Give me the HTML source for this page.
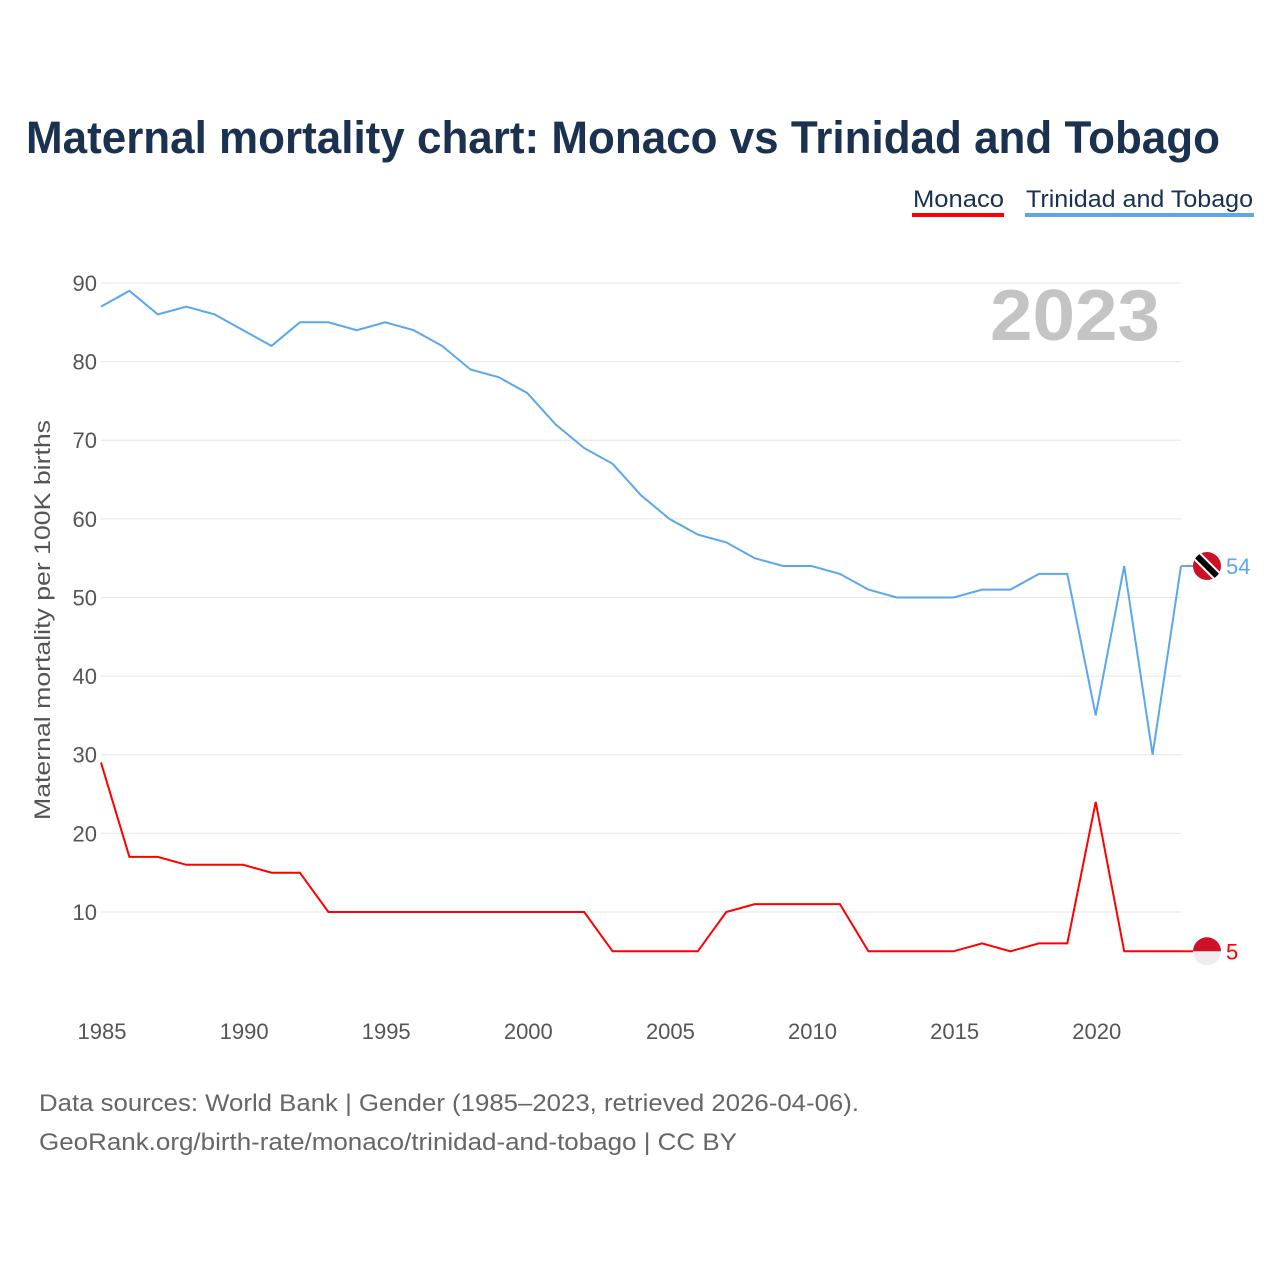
<!DOCTYPE html>
<html><head><meta charset="utf-8"><style>
body{margin:0;background:#fff;font-family:"Liberation Sans",sans-serif;}
#wrap{position:relative;width:1280px;height:1280px;}
</style></head><body>
<div id="wrap">
<svg id="chart" width="1280" height="1280"></svg>
</div>
<script>
const years=[];for(let y=1985;y<=2023;y++)years.push(y);
const ttValues=[87,89,86,87,86,84,82,85,85,84,85,84,82,79,78,76,72,69,67,63,60,58,57,55,54,54,53,51,50,50,50,51,51,53,53,35,54,30,54];
const monacoValues=[29,17,17,16,16,16,15,15,10,10,10,10,10,10,10,10,10,10,5,5,5,5,10,11,11,11,11,5,5,5,5,6,5,6,6,24,5,5,5];
const yTicks=[10,20,30,40,50,60,70,80,90];
const xTicks=[1985,1990,1995,2000,2005,2010,2015,2020];
const svg=document.getElementById('chart');const NS='http://www.w3.org/2000/svg';
function X(y){return 101+(y-1985)*(1181-101)/38;}
function Y(v){return 990.6-v*7.8625;}
function mk(t,a,p){const e=document.createElementNS(NS,t);for(const k in a)e.setAttribute(k,a[k]);(p||svg).appendChild(e);return e;}
let e;
e=mk('text',{x:26,y:153,'font-size':45,'font-weight':'bold',fill:'#1a3150',textLength:1194,lengthAdjust:'spacingAndGlyphs'});e.textContent='Maternal mortality chart: Monaco vs Trinidad and Tobago';

e=mk('text',{x:913,y:207,'font-size':24,fill:'#1a3150',textLength:91,lengthAdjust:'spacingAndGlyphs'});e.textContent='Monaco';

mk('rect',{x:912,y:213,width:92,height:4,fill:'#ff0000'});
e=mk('text',{x:1026,y:207,'font-size':24,fill:'#1a3150',textLength:227,lengthAdjust:'spacingAndGlyphs'});e.textContent='Trinidad and Tobago';

mk('rect',{x:1025,y:213,width:229,height:4,fill:'#5ba7ec'});
yTicks.forEach(v=>{
 e=mk('line',{x1:101,x2:1181,y1:Y(v),y2:Y(v),stroke:'#e6e6e6','stroke-width':1});
 
 e=mk('text',{x:97,y:Y(v)+8,'font-size':22,fill:'#555','text-anchor':'end'});e.textContent=v;
 
});
xTicks.forEach(v=>{
 e=mk('text',{x:X(v)+1,y:1039,'font-size':22,fill:'#555','text-anchor':'middle'});e.textContent=v;
 
});
e=mk('text',{x:-200,y:0,'font-size':22,fill:'#555',textLength:400,lengthAdjust:'spacingAndGlyphs',transform:'translate(50,620) rotate(-90)'});e.textContent='Maternal mortality per 100K births';

e=mk('text',{x:1160,y:340,'font-size':72,'font-weight':'bold',fill:'#c4c4c4','text-anchor':'end',textLength:170,lengthAdjust:'spacingAndGlyphs'});e.textContent='2023';

function line(vals,color,name){
 const d=vals.map((v,i)=>(i?'L':'M')+X(years[i]).toFixed(1)+','+Y(v).toFixed(1)).join('');
 const p=mk('path',{d:d,fill:'none',stroke:color,'stroke-width':2});
 
}
line(ttValues,'#5ba7ec','trinidad-line');
line(monacoValues,'#ff0000','monaco-line');
const tv=ttValues[ttValues.length-1],mv=monacoValues[monacoValues.length-1];
mk('line',{x1:1181,x2:1195,y1:Y(tv),y2:Y(tv),stroke:'#5ba7ec','stroke-width':2});
const g1=mk('g',{});
mk('clipPath',{id:'c1'},g1);mk('circle',{cx:1207,cy:Y(tv),r:14},document.getElementById('c1'));
mk('circle',{cx:1207,cy:Y(tv),r:14,fill:'#ce1126'},g1);
mk('line',{x1:1193,y1:Y(tv)-14,x2:1221,y2:Y(tv)+14,stroke:'#fff','stroke-width':10,'clip-path':'url(#c1)'},g1);
mk('line',{x1:1193,y1:Y(tv)-14,x2:1221,y2:Y(tv)+14,stroke:'#000','stroke-width':6,'clip-path':'url(#c1)'},g1);
e=mk('text',{x:1226,y:Y(tv)+8,'font-size':22,fill:'#5ba7ec'});e.textContent=tv;

mk('line',{x1:1181,x2:1195,y1:Y(mv),y2:Y(mv),stroke:'#ff0000','stroke-width':2});
const g2=mk('g',{});
mk('circle',{cx:1207,cy:Y(mv),r:14,fill:'#eeeeee'},g2);
mk('path',{d:`M1193,${Y(mv)} A14,14 0 0 1 1221,${Y(mv)} Z`,fill:'#ce1126'},g2);
e=mk('text',{x:1226,y:Y(mv)+8,'font-size':22,fill:'#ff0000'});e.textContent=mv;

e=mk('text',{x:39,y:1111,'font-size':24,fill:'#666',textLength:820,lengthAdjust:'spacingAndGlyphs'});e.textContent='Data sources: World Bank | Gender (1985–2023, retrieved 2026-04-06).';

e=mk('text',{x:39,y:1150,'font-size':24,fill:'#666',textLength:698,lengthAdjust:'spacingAndGlyphs'});e.textContent='GeoRank.org/birth-rate/monaco/trinidad-and-tobago | CC BY';

</script>
</body></html>
